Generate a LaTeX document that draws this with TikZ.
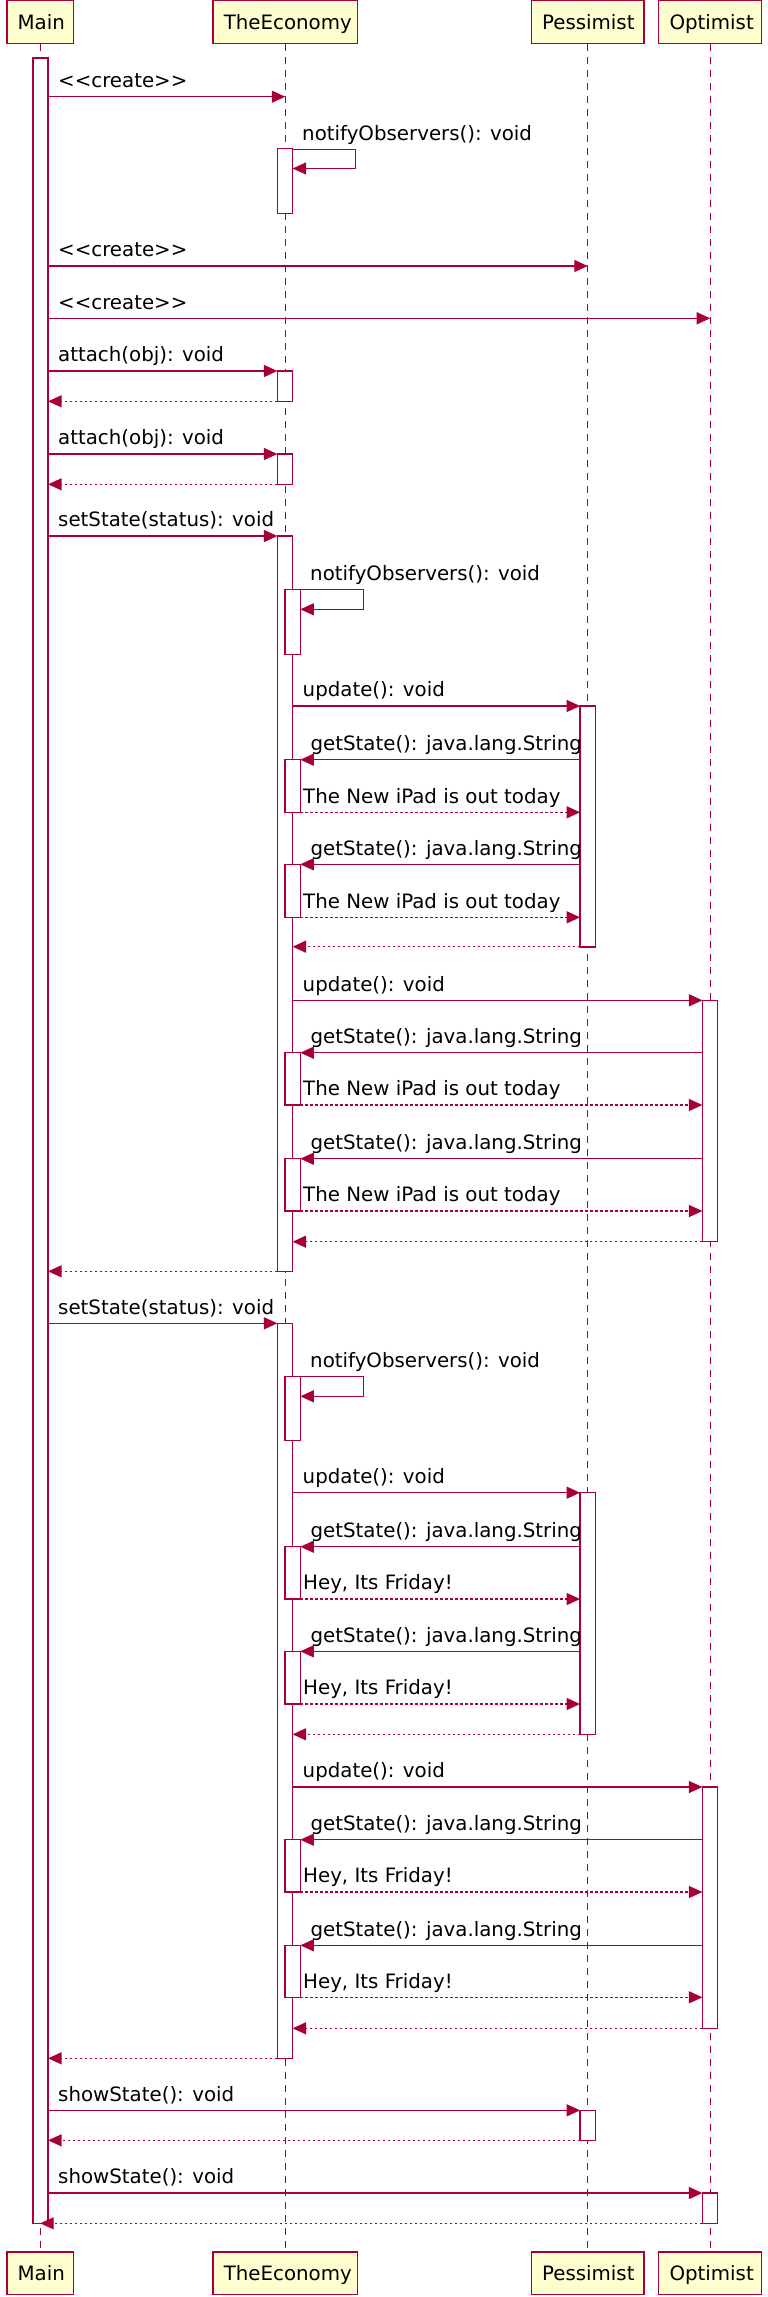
\documentclass[tikz,border=0pt]{standalone}
\usepackage{fontspec}
\setmainfont{DejaVu Sans}
\usetikzlibrary{arrows.meta}
\definecolor{umlred}{HTML}{A80036}
\definecolor{umlfill}{HTML}{FEFECE}
\newcommand\umlfont{\fontsize{19.8pt}{23pt}\selectfont}
\newcommand\actbar[4]{\node[actbox, minimum height={#4-#3}] (#1) at (#2,{(#3+#4)/2}) {};}
\begin{document}
\begin{tikzpicture}[x=1pt,y=-1pt,
  part/.style={draw=umlred, fill=umlfill, line width=1.3pt, minimum height=42.8pt,
    inner xsep=10.7pt, inner ysep=0pt, text height=14.4pt, text depth=0pt,
    align=left, font=\umlfont, anchor=center},
  lifeline/.style={draw=umlred, line width=1.1pt, dash pattern=on 7pt off 6pt},
  actbox/.style={draw=umlred, fill=white, line width=1.3pt, minimum width=15.2pt,
    inner sep=0pt, outer sep=0pt},
  msg/.style={draw=umlred, line width=1.3pt, -{Triangle[length=13.5pt,width=12pt]}},
  ret/.style={msg, dash pattern=on 2.5pt off 2.5pt},
  lbl/.style={anchor=base west, inner sep=0pt, font=\umlfont, text=black}]
\useasboundingbox (0,0) rectangle (768,2297);

% participants
\node[part, text width=45.2pt] (mainH) at (40.2,22) {Main};
\node[part, text width=122.9pt] (teH) at (285.25,22) {TheEconomy};
\node[part, text width=91.3pt] (peH) at (587.75,22) {Pessimist};
\node[part, text width=81.4pt] (opH) at (710.2,22) {Optimist};
\node[part, text width=45.2pt] (mainF) at (40.2,2273.4) {Main};
\node[part, text width=122.9pt] (teF) at (285.25,2273.4) {TheEconomy};
\node[part, text width=91.3pt] (peF) at (587.75,2273.4) {Pessimist};
\node[part, text width=81.4pt] (opF) at (710.2,2273.4) {Optimist};

% lifelines
\draw[lifeline] (mainH.south) -- (mainF.north);
\draw[lifeline] (teH.south) -- (teF.north);
\draw[lifeline] (peH.south) -- (peF.north);
\draw[lifeline] (opH.south) -- (opF.north);

% activations
\actbar{m}{40.5}{58}{2223.3}
\actbar{a1}{285}{148.5}{213.3}
\actbar{a2}{285}{371}{401.3}
\actbar{a3}{285}{454}{484.3}
\actbar{a4}{285}{536}{1271.5}
\actbar{n1}{292.7}{589.3}{654.3}
\actbar{n2}{292.7}{759.7}{812.3}
\actbar{n3}{292.7}{864.3}{917.3}
\actbar{n4}{292.7}{1052.7}{1105}
\actbar{n5}{292.7}{1158.7}{1211}
\actbar{a5}{285}{1323.3}{2058.3}
\actbar{n6}{292.7}{1376.3}{1440.3}
\actbar{n7}{292.7}{1546.7}{1599}
\actbar{n8}{292.7}{1651.3}{1704}
\actbar{n9}{292.7}{1839.7}{1892}
\actbar{n10}{292.7}{1945.3}{1997.3}
\actbar{p1}{587.7}{706}{946.9}
\actbar{p2}{587.7}{1492.7}{1734.3}
\actbar{p3}{587.7}{2110.3}{2140.3}
\actbar{o1}{710}{1000.3}{1241.7}
\actbar{o2}{710}{1787}{2028.3}
\actbar{o3}{710}{2193}{2223.3}

% ---- setup ----
\draw[msg] (m.east |- 0,96.7) -- (teH.south |- 0,96.7);
\node[lbl] (l1) at (58,87.5) {<{}<create>{}>};
\draw[msg] (a1.east |- 0,149.7) -- ++(63,0) -- ++(0,18.8) -- (a1.east |- 0,168.5);
\node[lbl] (l2) at (302,140.5) {notifyObservers(): void};
\draw[msg] (m.east |- 0,266) -- (peH.south |- 0,266);
\node[lbl] (l3) at (58,256.8) {<{}<create>{}>};
\draw[msg] (m.east |- 0,318.3) -- (opH.south |- 0,318.3);
\node[lbl] (l4) at (58,309.1) {<{}<create>{}>};
\draw[msg] (m.east |- 0,371) -- (a2.west |- 0,371);
\node[lbl] (l5) at (58,361.8) {attach(obj): void};
\draw[ret] (a2.west |- 0,401.3) -- (m.east |- 0,401.3);
\draw[msg] (m.east |- 0,454) -- (a3.west |- 0,454);
\node[lbl] (l6) at (58,444.8) {attach(obj): void};
\draw[ret] (a3.west |- 0,484.3) -- (m.east |- 0,484.3);

% ---- first setState ----
\draw[msg] (m.east |- 0,536) -- (a4.west |- 0,536);
\node[lbl] (l7) at (58,526.8) {setState(status): void};
\draw[msg] (n1.east |- 0,589.3) -- ++(63,0) -- ++(0,20) -- (n1.east |- 0,609.3);
\node[lbl] (l8) at (310,580.1) {notifyObservers(): void};
\draw[msg] (a4.east |- 0,706) -- (p1.west |- 0,706);
\node[lbl] (l9) at (302.5,696.8) {update(): void};
\draw[msg] (p1.west |- 0,759.7) -- (n2.east |- 0,759.7);
\node[lbl] (l10) at (310.4,750.5) {getState(): java.lang.String};
\draw[ret] (n2.east |- 0,812.3) -- (p1.west |- 0,812.3);
\node[lbl] (l11) at (303,803.1) {The New iPad is out today};
\draw[msg] (p1.west |- 0,864.3) -- (n3.east |- 0,864.3);
\node[lbl] (l12) at (310.4,855.1) {getState(): java.lang.String};
\draw[ret] (n3.east |- 0,917.3) -- (p1.west |- 0,917.3);
\node[lbl] (l13) at (303,908.1) {The New iPad is out today};
\draw[ret] (p1.west |- 0,946.7) -- (a4.east |- 0,946.7);
\draw[msg] (a4.east |- 0,1000.3) -- (o1.west |- 0,1000.3);
\node[lbl] (l14) at (302.5,991.1) {update(): void};
\draw[msg] (o1.west |- 0,1052.7) -- (n4.east |- 0,1052.7);
\node[lbl] (l15) at (310.4,1043.5) {getState(): java.lang.String};
\draw[ret] (n4.east |- 0,1105) -- (o1.west |- 0,1105);
\node[lbl] (l16) at (303,1095.8) {The New iPad is out today};
\draw[msg] (o1.west |- 0,1158.7) -- (n5.east |- 0,1158.7);
\node[lbl] (l17) at (310.4,1149.5) {getState(): java.lang.String};
\draw[ret] (n5.east |- 0,1211) -- (o1.west |- 0,1211);
\node[lbl] (l18) at (303,1201.8) {The New iPad is out today};
\draw[ret] (o1.west |- 0,1241.7) -- (a4.east |- 0,1241.7);
\draw[ret] (a4.west |- 0,1271.3) -- (m.east |- 0,1271.3);

% ---- second setState ----
\draw[msg] (m.east |- 0,1323.3) -- (a5.west |- 0,1323.3);
\node[lbl] (l19) at (58,1314.1) {setState(status): void};
\draw[msg] (n6.east |- 0,1376.3) -- ++(63,0) -- ++(0,20) -- (n6.east |- 0,1396.3);
\node[lbl] (l20) at (310,1367.1) {notifyObservers(): void};
\draw[msg] (a5.east |- 0,1492.7) -- (p2.west |- 0,1492.7);
\node[lbl] (l21) at (302.5,1483.5) {update(): void};
\draw[msg] (p2.west |- 0,1546.7) -- (n7.east |- 0,1546.7);
\node[lbl] (l22) at (310.4,1537.5) {getState(): java.lang.String};
\draw[ret] (n7.east |- 0,1599) -- (p2.west |- 0,1599);
\node[lbl] (l23) at (303,1589.8) {Hey, Its Friday!};
\draw[msg] (p2.west |- 0,1651.3) -- (n8.east |- 0,1651.3);
\node[lbl] (l24) at (310.4,1642.1) {getState(): java.lang.String};
\draw[ret] (n8.east |- 0,1704) -- (p2.west |- 0,1704);
\node[lbl] (l25) at (303,1694.8) {Hey, Its Friday!};
\draw[ret] (p2.west |- 0,1734.3) -- (a5.east |- 0,1734.3);
\draw[msg] (a5.east |- 0,1787) -- (o2.west |- 0,1787);
\node[lbl] (l26) at (302.5,1777.8) {update(): void};
\draw[msg] (o2.west |- 0,1839.7) -- (n9.east |- 0,1839.7);
\node[lbl] (l27) at (310.4,1830.5) {getState(): java.lang.String};
\draw[ret] (n9.east |- 0,1892) -- (o2.west |- 0,1892);
\node[lbl] (l28) at (303,1882.8) {Hey, Its Friday!};
\draw[msg] (o2.west |- 0,1945.3) -- (n10.east |- 0,1945.3);
\node[lbl] (l29) at (310.4,1936.1) {getState(): java.lang.String};
\draw[ret] (n10.east |- 0,1997.3) -- (o2.west |- 0,1997.3);
\node[lbl] (l30) at (303,1988.1) {Hey, Its Friday!};
\draw[ret] (o2.west |- 0,2028.3) -- (a5.east |- 0,2028.3);
\draw[ret] (a5.west |- 0,2058.3) -- (m.east |- 0,2058.3);

% ---- showState ----
\draw[msg] (m.east |- 0,2110.3) -- (p3.west |- 0,2110.3);
\node[lbl] (l31) at (58,2101.1) {showState(): void};
\draw[ret] (p3.west |- 0,2140.3) -- (m.east |- 0,2140.3);
\draw[msg] (m.east |- 0,2193) -- (o3.west |- 0,2193);
\node[lbl] (l32) at (58,2183.8) {showState(): void};
\draw[ret] (o3.west |- 0,2223.3) -- (mainF.north |- 0,2223.3);
\end{tikzpicture}
\end{document}
